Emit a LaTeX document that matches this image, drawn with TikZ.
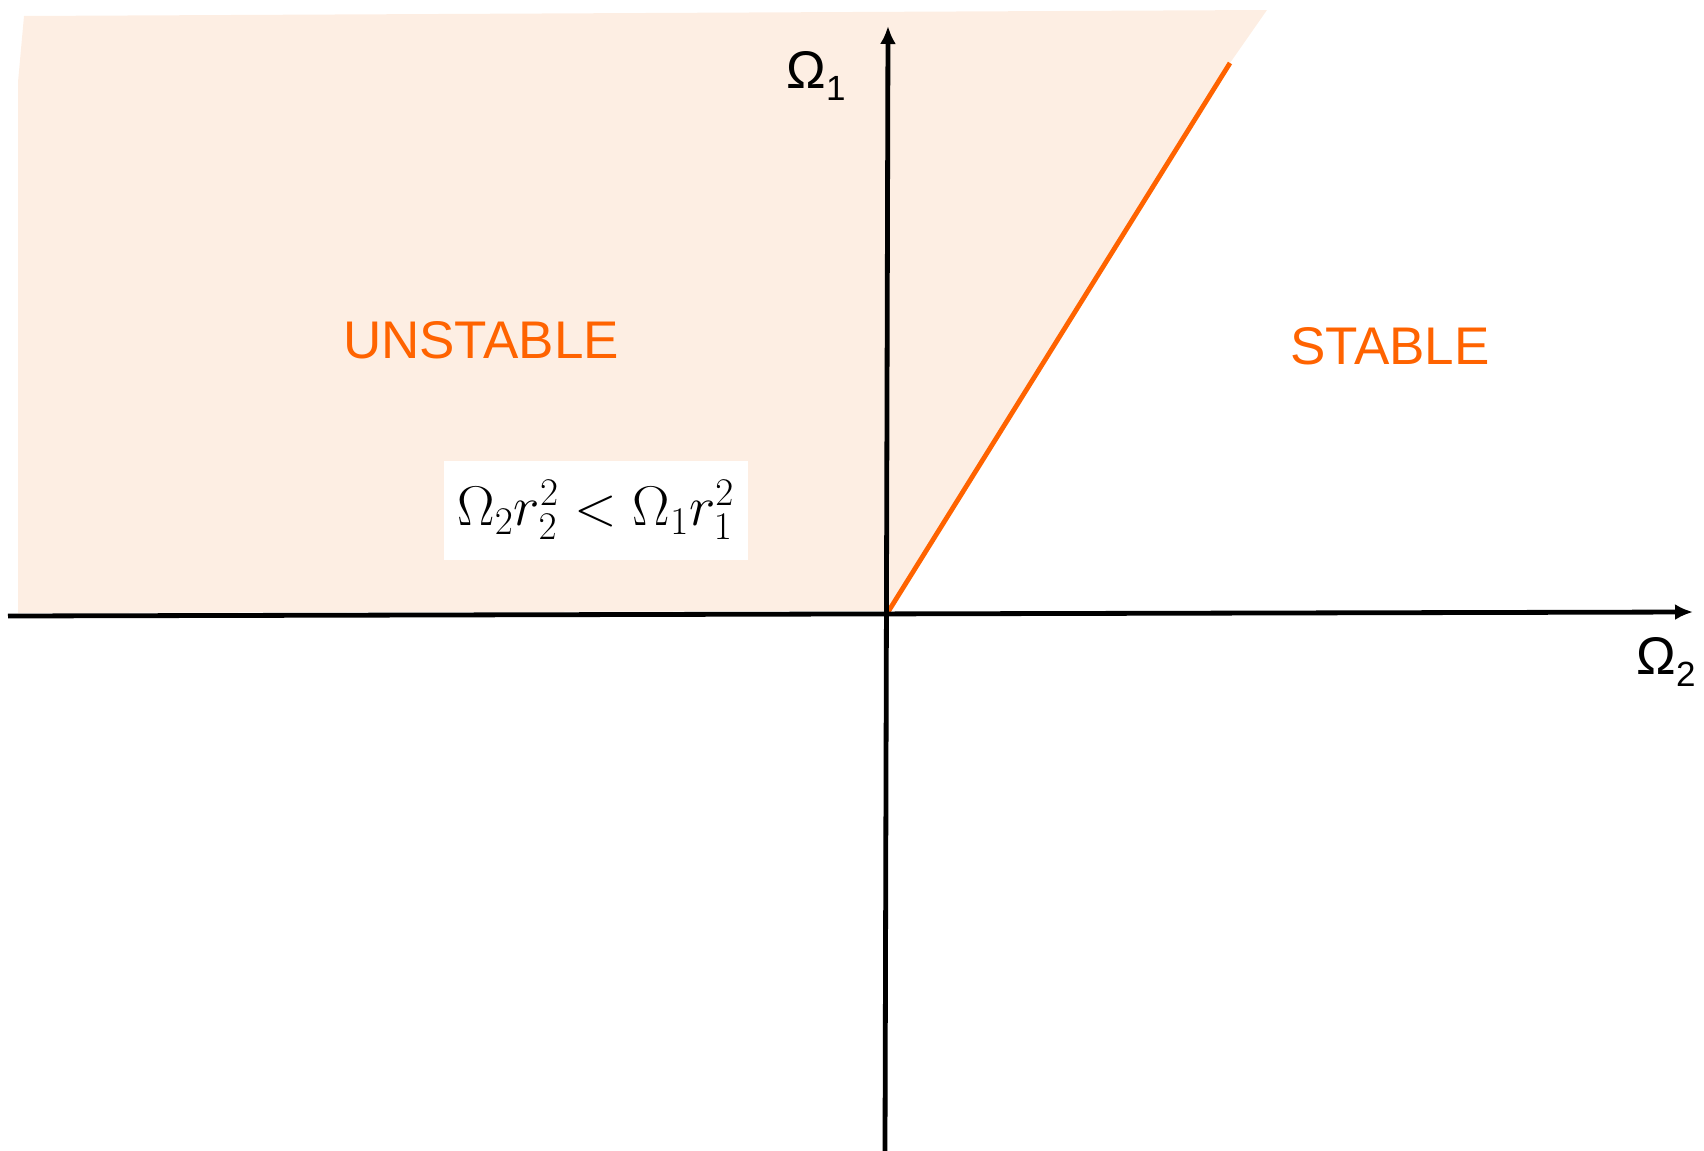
\RequirePackage{fix-cm}
\documentclass[tikz,border=0pt]{standalone}
\usepackage{fontspec}
\setsansfont{Liberation Sans}
\usetikzlibrary{arrows.meta,positioning}

\definecolor{regionfill}{HTML}{FDEEE3}
\definecolor{boundary}{HTML}{FF6300}

\newcommand{\axsub}[1]{\raisebox{-6pt}{\fontsize{17.5}{20}\selectfont #1}}

\begin{document}
\begin{tikzpicture}[
  x=0.5pt, y=-0.5pt,
  >={Latex[length=9pt,width=8pt]},
  axis/.style={draw, line width=2.4pt, ->},
  regionlabel/.style={font=\sffamily\fontsize{26.5}{30}\selectfont, text=boundary},
  axislabel/.style={font=\sffamily\fontsize{26.5}{30}\selectfont, anchor=west, inner sep=0pt},
  condbox/.style={fill=white, inner sep=0pt, minimum width=152pt, minimum height=49.5pt,
                  font=\fontsize{28}{34}\selectfont}
]
\useasboundingbox (0,0) rectangle (1704,1151);

% unstable region
\fill[regionfill] (24,16) -- (1267,10) -- (1230,63) -- (888,611)
                  -- (18,613) -- (18,82) -- cycle;

% axes
\coordinate (west)  at (8,616);
\coordinate (east)  at (1693,612);
\coordinate (south) at (885,1151);
\coordinate (north) at (888,26);
\coordinate (origin) at (888,612);
\coordinate (edge)  at (1230,63);

\draw[boundary, line width=2.4pt] (origin) -- (edge);
\draw[axis] (west) -- (east);
\draw[axis] (south) -- (north);

\node[axislabel] (omega1) at (786,76)   {Ω\axsub{1}};
\node[axislabel] (omega2) at (1636,662) {Ω\axsub{2}};

\node[regionlabel] (unstable) at (481,340) {UNSTABLE};
\node[regionlabel] (stable)   at (1390,346) {STABLE};

\node[condbox] (cond) at (596,510) {$\Omega_2 r_2^2 < \Omega_1 r_1^2$};
\end{tikzpicture}
\end{document}
